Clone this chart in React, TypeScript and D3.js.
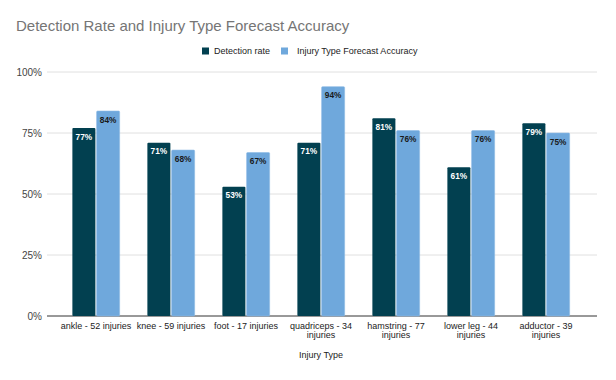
import React from "react";
import * as d3 from "d3";

const categories: string[][] = [
  ["ankle - 52 injuries"],
  ["knee - 59 injuries"],
  ["foot - 17 injuries"],
  ["quadriceps - 34", "injuries"],
  ["hamstring - 77", "injuries"],
  ["lower leg - 44", "injuries"],
  ["adductor - 39", "injuries"],
];
const detectionRate = [0.77, 0.71, 0.53, 0.71, 0.81, 0.61, 0.79];
const forecastAccuracy = [0.84, 0.68, 0.67, 0.94, 0.76, 0.76, 0.75];
const yTicks = [0, 0.25, 0.5, 0.75, 1];
const seriesNames = ["Detection rate", "Injury Type Forecast Accuracy"];
const colors = ["#024050", "#6fa8dc"];

export default function App() {
  const W = 616, H = 380;
  const plotL = 47, plotR = 597;
  const y = d3.scaleLinear().domain([0, 1]).range([316, 72]);
  const x = d3.scaleBand<number>().domain(d3.range(categories.length)).range([58.5, 583.5]).paddingInner(0.37).paddingOuter(0.185);
  const inner = d3.scaleBand<number>().domain([0, 1]).range([0, x.bandwidth()]).paddingInner(0.05);
  const series = [detectionRate, forecastAccuracy];
  const fmt = d3.format(".0%");
  const font = "Arial, 'Liberation Sans', sans-serif";
  return (
    <svg width={W} height={H} style={{ position: "absolute", left: 0, top: 0, fontFamily: font }}>
      <rect width={W} height={H} fill="#fff" />
      <text x={16} y={31} fontSize={15} fill="#757575">Detection Rate and Injury Type Forecast Accuracy</text>
      <g fontSize={9} fill="#222">
        <rect x={202} y={47.5} width={7} height={7} fill={colors[0]} />
        <text x={214} y={54}>{seriesNames[0]}</text>
        <rect x={281} y={47.5} width={7} height={7} fill={colors[1]} />
        <text x={297} y={54}>{seriesNames[1]}</text>
      </g>
      {yTicks.map((t) => (
        <g key={t}>
          <line x1={plotL} x2={plotR} y1={y(t)} y2={y(t)} stroke={t === 0 ? "#333" : "#e0e0e0"} strokeWidth={1} />
          <text x={42} y={y(t) + 3.5} textAnchor="end" fontSize={10} fill="#444">{fmt(t)}</text>
        </g>
      ))}
      {categories.map((c, i) => (
        <g key={i}>
          {series.map((s, j) => {
            const bx = (x(i) as number) + (inner(j) as number);
            const bw = inner.bandwidth();
            const top = y(s[i]);
            return (
              <g key={j}>
                <rect x={bx} y={top} width={bw} height={y(0) - top} fill={colors[j]} stroke={j === 1 ? "#8dbbe6" : "none"} strokeWidth={0.6} rx={1} />
                <text x={bx + bw / 2} y={top + 11.5} textAnchor="middle" fontSize={8.3} fontWeight="bold" fill={j === 0 ? "#fff" : "#1a1a1a"}>{fmt(s[i])}</text>
              </g>
            );
          })}
          {c.map((line, k) => (
            <text key={k} x={(x(i) as number) + x.bandwidth() / 2} y={329 + k * 8.5} textAnchor="middle" fontSize={9} fill="#222">{line}</text>
          ))}
        </g>
      ))}
      <text x={321} y={358} textAnchor="middle" fontSize={9} fill="#222">Injury Type</text>
    </svg>
  );
}
